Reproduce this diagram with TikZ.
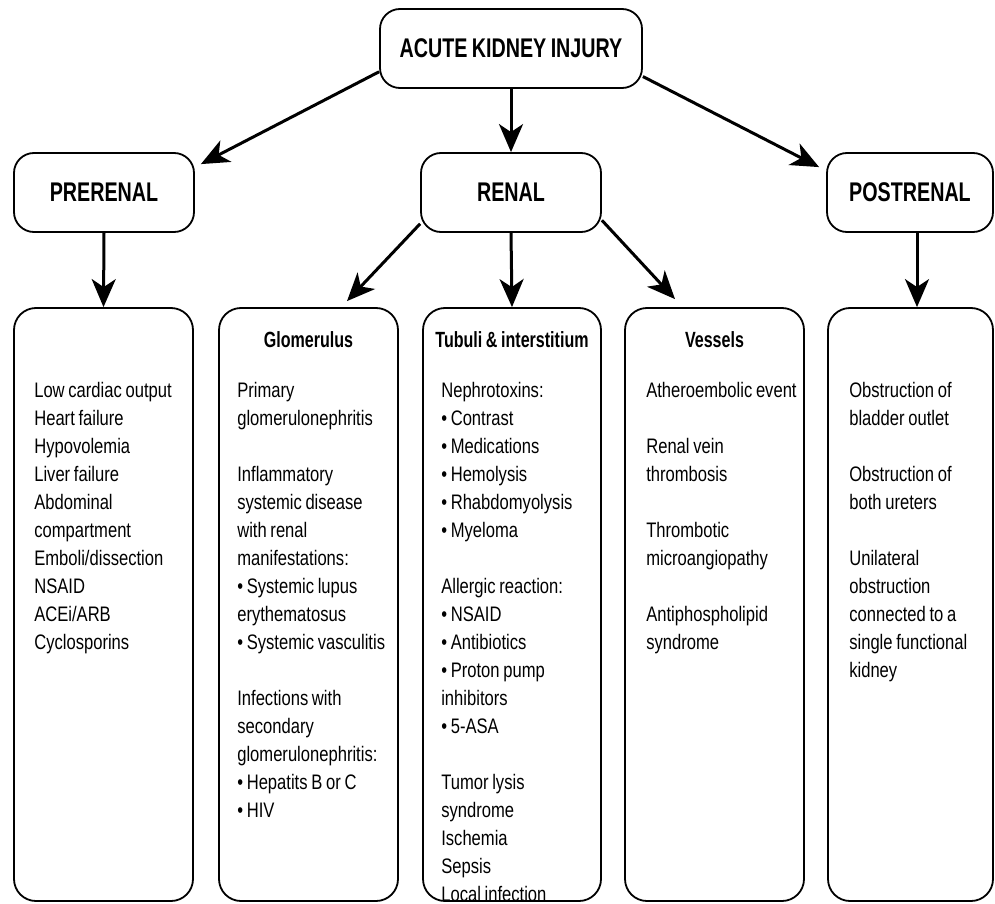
\documentclass[tikz,border=0pt]{standalone}
\usepackage{fontspec}
\setmainfont{Liberation Sans}[FakeStretch=0.79,WordSpace=0.8]
\newfontfamily\headfont{Liberation Sans}[FakeStretch=0.73,WordSpace=0.8]
\usepackage{tikz}
\usetikzlibrary{calc,arrows,arrows.meta,positioning}
\tikzset{
  block/.style={draw,line width=1.8pt,rounded corners=20pt,minimum height=79pt,inner sep=0pt,font=\headfont\bfseries\fontsize{27}{30}\selectfont},
  column/.style={draw,line width=1.8pt,rounded corners=22pt,minimum width=179pt,minimum height=593pt,inner sep=0pt},
  arr/.style={line width=3pt,-{Stealth[length=28pt,width=24pt,inset=8pt]}},
  hd/.style={anchor=base,inner sep=0pt,font=\headfont\bfseries\fontsize{22}{26}\selectfont},
  txt/.style={anchor=base west,inner sep=0pt,text width=190pt,align=flush left,font=\fontsize{21}{28}\selectfont}
}
\begin{document}
\begin{tikzpicture}[x=1pt,y=-1pt]
              \useasboundingbox(0,0)rectangle(995,904);
              \node[block,minimum width=262pt](aki)at(511,48.5){ACUTE KIDNEY INJURY};
              \node[block,minimum width=180pt](pre)at(104,192.5){PRERENAL};
              \node[block,minimum width=180pt](ren)at(511,192.5){RENAL};
              \node[block,minimum width=166pt](post)at(910,192.5){POSTRENAL};
              \node[column](causes)at(103.5,604.5){};
              \node[column](glom)at(308.5,604.5){};
              \node[column,minimum width=178pt](tub)at(512,604.5){};
              \node[column](ves)at(714.5,604.5){};
              \node[column,minimum width=165pt](obs)at(910.5,604.5){};
              \node[hd](glomhd)at($(glom.north)+(0,40)$){Glomerulus};
              \node[hd](tubhd)at($(tub.north)+(0,40)$){Tubuli \& interstitium};
              \node[hd](veshd)at($(ves.north)+(0,40)$){Vessels};
              \node[txt](causestxt)at($(causes.north west)+(21,90)$){Low cardiac output\\Heart failure\\Hypovolemia\\Liver failure\\Abdominal\\compartment\\Emboli/dissection\\NSAID\\ACEi/ARB\\Cyclosporins};
              \node[txt](glomtxt)at($(glom.north west)+(19,90)$){Primary\\glomerulonephritis\\[28pt]Inflammatory\\systemic disease\\with renal\\manifestations:\\• Systemic lupus\\erythematosus\\• Systemic vasculitis\\[28pt]Infections with\\secondary\\glomerulonephritis:\\• Hepatits B or C\\• HIV};
              \node[txt](tubtxt)at($(tub.north west)+(19,90)$){Nephrotoxins:\\• Contrast\\• Medications\\• Hemolysis\\• Rhabdomyolysis\\• Myeloma\\[28pt]Allergic reaction:\\• NSAID\\• Antibiotics\\• Proton pump\\inhibitors\\• 5-ASA\\[28pt]Tumor lysis\\syndrome\\Ischemia\\Sepsis\\Local infection};
              \node[txt](vestxt)at($(ves.north west)+(22,90)$){Atheroembolic event\\[28pt]Renal vein\\thrombosis\\[28pt]Thrombotic\\microangiopathy\\[28pt]Antiphospholipid\\syndrome};
              \node[txt](obstxt)at($(obs.north west)+(22,90)$){Obstruction of\\bladder outlet\\[28pt]Obstruction of\\both ureters\\[28pt]Unilateral\\obstruction\\connected to a\\single functional\\kidney};
              \draw[arr](aki.190)--([shift={(6,12)}]pre.north east);
              \draw[arr](aki.south)--(ren.north);
              \draw[arr](aki.348)--([shift={(-7,15)}]post.north west);
              \draw[arr](pre.south)--(causes.north);
              \draw[arr](ren.199)--([shift={(38.5,-6)}]glom.north);
              \draw[arr](ren.south)--(tub.north);
              \draw[arr](ren.343)--([shift={(-39.5,-8)}]ves.north);
              \draw[arr]([xshift=7pt]post.south)--([xshift=6.5pt]obs.north);
            \end{tikzpicture}
\end{document}
